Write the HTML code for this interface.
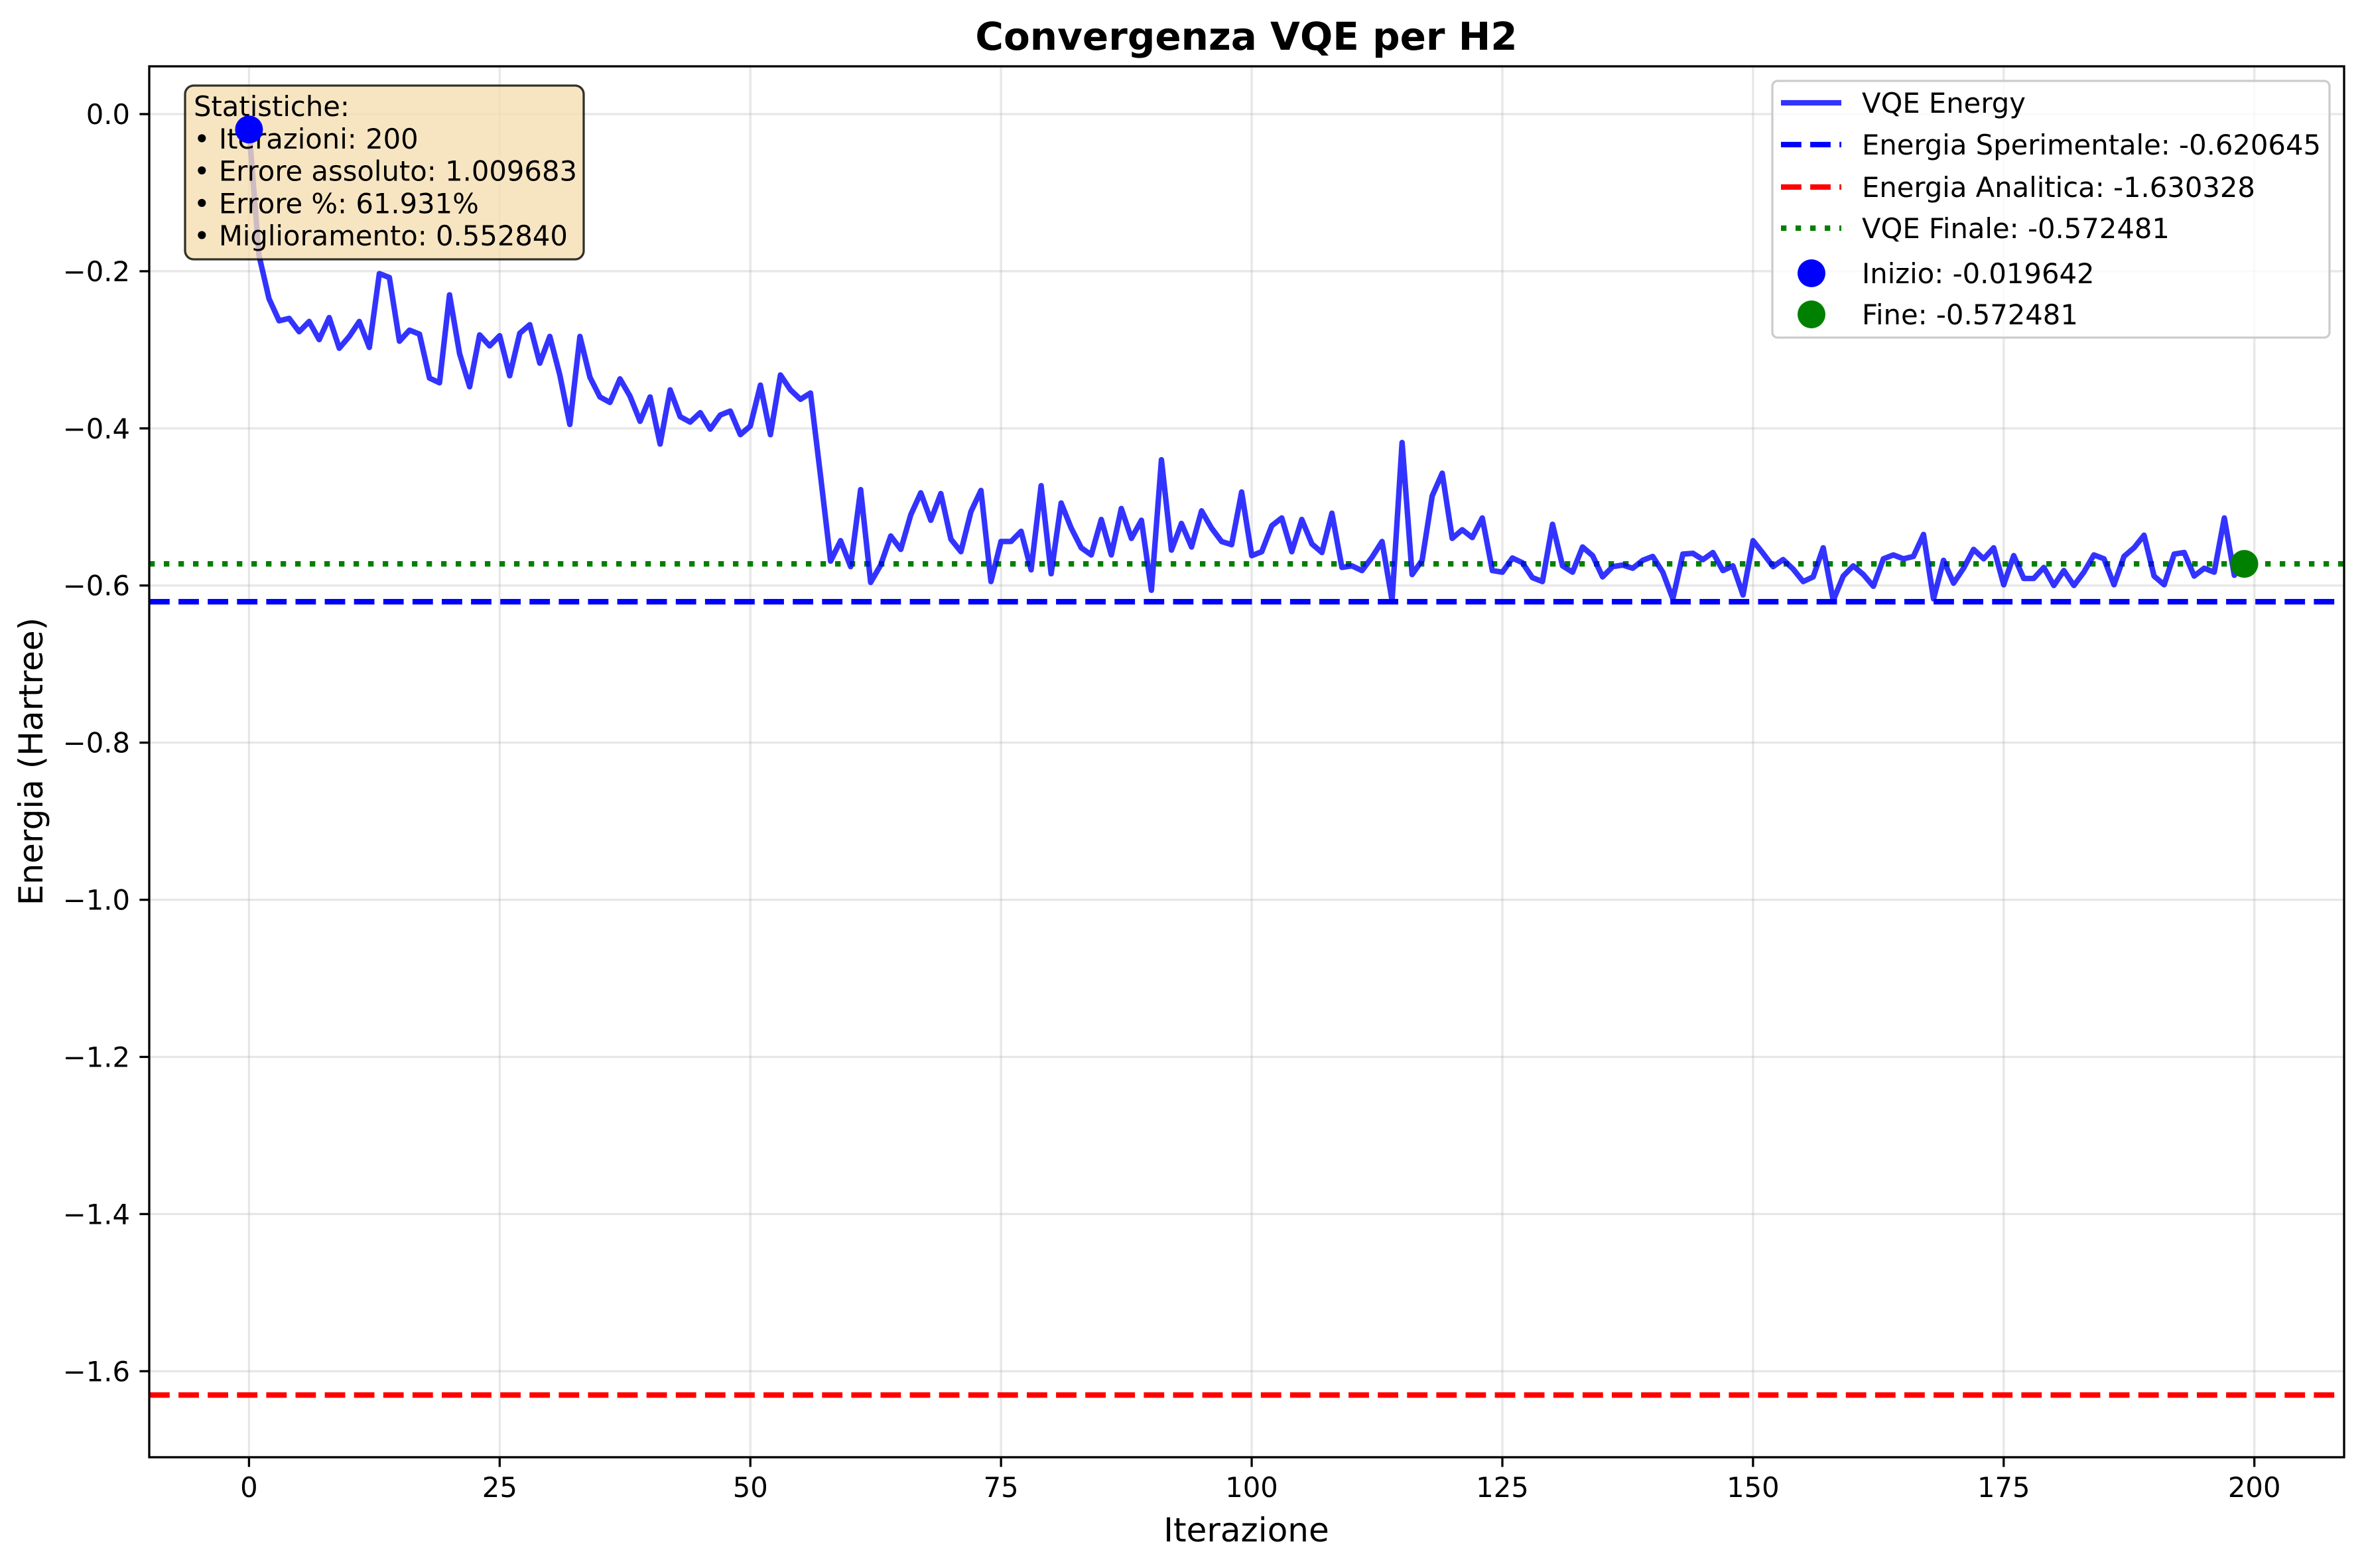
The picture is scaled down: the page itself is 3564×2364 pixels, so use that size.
<!DOCTYPE html>
<html><head><meta charset="utf-8"><style>
html,body{margin:0;padding:0;background:#fff}
svg{display:block;font-family:"DejaVu Sans","Liberation Sans",sans-serif}
</style></head><body>
<svg id="chart" width="3564" height="2364" viewBox="0 0 3564 2364" xmlns="http://www.w3.org/2000/svg">
<rect width="3564" height="2364" fill="#fff"/>
<g id="grid"></g>
<g id="refs"></g>
<g id="series"></g>
<g id="stats"></g>
<g id="markers"></g>
<g id="axes"></g>
<g id="legend"></g>
<text x="1879" y="75" text-anchor="middle" font-size="58" font-weight="bold">Convergenza VQE per H2</text>
<text x="1879" y="2324" text-anchor="middle" font-size="50">Iterazione</text>
<text x="64" y="1148" text-anchor="middle" font-size="50" transform="rotate(-90 64 1148)">Energia (Hartree)</text>
</svg>
<script>
const energies = [-0.0196,-0.18,-0.235,-0.263,-0.26,-0.277,-0.264,-0.287,-0.259,-0.298,-0.283,-0.264,-0.297,-0.203,-0.208,-0.289,-0.275,-0.28,-0.336,-0.342,
-0.23,-0.305,-0.347,-0.281,-0.295,-0.282,-0.333,-0.279,-0.268,-0.317,-0.283,-0.332,-0.395,-0.283,-0.335,-0.36,-0.367,-0.337,-0.359,-0.391,
-0.36,-0.42,-0.351,-0.385,-0.392,-0.38,-0.401,-0.383,-0.378,-0.408,-0.397,-0.345,-0.408,-0.332,-0.351,-0.363,-0.355,-0.46,-0.569,-0.543,
-0.576,-0.478,-0.596,-0.574,-0.537,-0.554,-0.51,-0.482,-0.517,-0.483,-0.541,-0.557,-0.506,-0.479,-0.595,-0.544,-0.544,-0.531,-0.58,-0.473,
-0.585,-0.495,-0.527,-0.552,-0.561,-0.516,-0.561,-0.502,-0.54,-0.517,-0.606,-0.44,-0.555,-0.521,-0.551,-0.505,-0.527,-0.544,-0.548,-0.481,
-0.562,-0.557,-0.524,-0.514,-0.557,-0.516,-0.547,-0.558,-0.508,-0.577,-0.575,-0.581,-0.564,-0.544,-0.619,-0.418,-0.586,-0.568,-0.486,-0.457,
-0.54,-0.529,-0.539,-0.514,-0.581,-0.583,-0.565,-0.571,-0.59,-0.595,-0.522,-0.575,-0.583,-0.551,-0.562,-0.589,-0.576,-0.574,-0.578,-0.568,
-0.563,-0.583,-0.617,-0.56,-0.559,-0.567,-0.558,-0.581,-0.575,-0.612,-0.543,-0.559,-0.576,-0.567,-0.579,-0.595,-0.589,-0.552,-0.619,-0.588,
-0.575,-0.586,-0.601,-0.566,-0.561,-0.566,-0.563,-0.535,-0.617,-0.568,-0.597,-0.578,-0.554,-0.566,-0.552,-0.599,-0.562,-0.591,-0.591,-0.577,
-0.6,-0.581,-0.6,-0.583,-0.561,-0.566,-0.599,-0.563,-0.552,-0.536,-0.588,-0.599,-0.56,-0.558,-0.588,-0.578,-0.583,-0.514,-0.587,-0.572481];
const xTicks = [0,25,50,75,100,125,150,175,200];
const yTicks = [0.0,-0.2,-0.4,-0.6,-0.8,-1.0,-1.2,-1.4,-1.6];
const yTickLabels = ["0.0","\u22120.2","\u22120.4","\u22120.6","\u22120.8","\u22121.0","\u22121.2","\u22121.4","\u22121.6"];
const refValues = [-0.620645,-1.630328,-0.572481];
const legendLabels = ["VQE Energy","Energia Sperimentale: -0.620645","Energia Analitica: -1.630328","VQE Finale: -0.572481","Inizio: -0.019642","Fine: -0.572481"];
const statsLines = ["Statistiche:","\u2022 Iterazioni: 200","\u2022 Errore assoluto: 1.009683","\u2022 Errore %: 61.931%","\u2022 Miglioramento: 0.552840"];

const NS="http://www.w3.org/2000/svg";
const L=225,R=3534,T=100,B=2197;
const xMin=-9.95,xMax=208.95,yMin=-1.7095,yMax=0.0608;
const sx=v=>L+(v-xMin)/(xMax-xMin)*(R-L);
const sy=v=>T+(yMax-v)/(yMax-yMin)*(B-T);
function mk(tag,attrs,parent){const e=document.createElementNS(NS,tag);for(const k in attrs)e.setAttribute(k,attrs[k]);parent.appendChild(e);return e;}
const grid=document.getElementById('grid');
xTicks.forEach(t=>{const e=mk('line',{x1:sx(t),x2:sx(t),y1:T,y2:B,stroke:'#b0b0b0','stroke-opacity':0.3,'stroke-width':3.3},grid);

});
yTicks.forEach(t=>{const e=mk('line',{x1:L,x2:R,y1:sy(t),y2:sy(t),stroke:'#b0b0b0','stroke-opacity':0.3,'stroke-width':3.3},grid);

});

const refs=document.getElementById('refs');
const r1=mk('line',{x1:L,x2:R,y1:sy(refValues[0]),y2:sy(refValues[0]),stroke:'blue','stroke-width':8.3,'stroke-dasharray':'30.8 13.3'},refs);


const r2=mk('line',{x1:L,x2:R,y1:sy(refValues[1]),y2:sy(refValues[1]),stroke:'red','stroke-width':8.3,'stroke-dasharray':'30.8 13.3'},refs);


const r3=mk('line',{x1:L,x2:R,y1:sy(refValues[2]),y2:sy(refValues[2]),stroke:'green','stroke-width':8.3,'stroke-dasharray':'8.3 13.7'},refs);



const series=document.getElementById('series');
const pts=energies.map((v,i)=>sx(i).toFixed(1)+','+sy(v).toFixed(1)).join(' ');
const pl=mk('polyline',{points:pts,fill:'none',stroke:'blue','stroke-opacity':0.8,'stroke-width':8.3,'stroke-linejoin':'round'},series);



const stats=document.getElementById('stats');
const sb=mk('rect',{x:279,y:129,width:601,height:262,rx:13,fill:'#f5deb3','fill-opacity':0.8,stroke:'#000','stroke-opacity':0.8,'stroke-width':3.3},stats);


statsLines.forEach((s,i)=>{const t=mk('text',{x:292,y:175+i*48.8,'font-size':41.7},stats);t.textContent=s;

});

const markers=document.getElementById('markers');
const m1=mk('circle',{cx:sx(0),cy:sy(energies[0]),r:21,fill:'blue'},markers);


const last=energies.length-1;
const m2=mk('circle',{cx:sx(last),cy:sy(energies[last]),r:21,fill:'green'},markers);



const axes=document.getElementById('axes');
const fr=mk('rect',{x:L,y:T,width:R-L,height:B-T,fill:'none',stroke:'#000','stroke-width':3.3},axes);


xTicks.forEach(t=>{const ln=mk('line',{x1:sx(t),x2:sx(t),y1:B,y2:B+14.6,stroke:'#000','stroke-width':3.3},axes);


const tx=mk('text',{x:sx(t),y:B+60,'text-anchor':'middle','font-size':41.7},axes);tx.textContent=String(t);

});
yTicks.forEach((t,i)=>{const ln=mk('line',{x1:L-14.6,x2:L,y1:sy(t),y2:sy(t),stroke:'#000','stroke-width':3.3},axes);


const tx=mk('text',{x:L-29,y:sy(t)+15,'text-anchor':'end','font-size':41.7},axes);tx.textContent=yTickLabels[i];

});

const lg=document.getElementById('legend');
const lb=mk('rect',{x:2672,y:122,width:840,height:387,rx:8,fill:'#fff','fill-opacity':0.8,stroke:'#ccc','stroke-width':3.3},lg);


const rowY=[155,218,282,344,412,474];
const hs=[{s:'blue',o:0.8,d:''},{s:'blue',o:1,d:'30.8 13.3'},{s:'red',o:1,d:'30.8 13.3'},{s:'green',o:1,d:'8.3 13.7'}];
legendLabels.forEach((lab,i)=>{
 const g=mk('g',{},lg);
 
 
 if(i<4){const a={x1:2685,x2:2776,y1:rowY[i],y2:rowY[i],stroke:hs[i].s,'stroke-opacity':hs[i].o,'stroke-width':8.3};if(hs[i].d)a['stroke-dasharray']=hs[i].d;mk('line',a,g);}
 else{mk('circle',{cx:2731,cy:rowY[i],r:21,fill:i===4?'blue':'green'},g);}
 const t=mk('text',{x:2807,y:rowY[i]+15,'font-size':41.7},g);t.textContent=lab;
});
</script>
</body></html>
